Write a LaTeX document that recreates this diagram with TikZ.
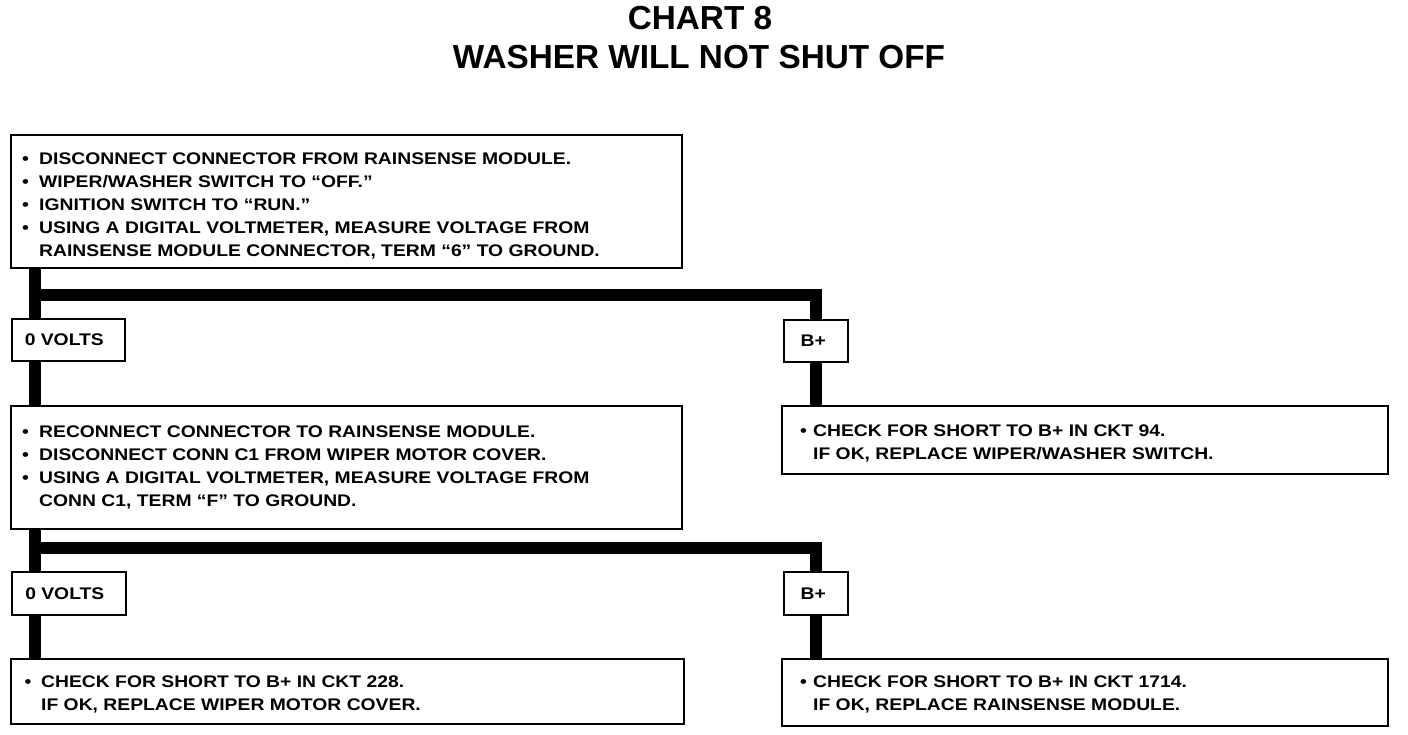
\documentclass[tikz,border=0pt]{standalone}
\usepackage{fontspec}
\setmainfont{Liberation Sans}
\newfontfamily\widefont{Liberation Sans}[FakeStretch=1.15]
\usetikzlibrary{calc}
\newcommand\bul[1]{\makebox[#1][l]{•}}
\newcommand\hang[1]{\hspace*{#1}}
\newcommand\bodyfnt{\widefont\bfseries\fontsize{16.8}{23}\selectfont}
\newcommand\titlefnt{\bfseries\fontsize{33.3}{40}\selectfont}
\tikzset{
  box/.style={draw, line width=1.6pt, anchor=north west, inner sep=0pt},
  txt/.style={anchor=north west, inner sep=0pt, align=left, font=\bodyfnt},
  lbl/.style={draw, line width=1.6pt, anchor=north west, inner sep=0pt, font=\bodyfnt},
  trunk/.style={line width=12pt, line join=miter, line cap=butt},
  ttl/.style={font=\titlefnt, inner sep=0pt}
}
\begin{document}
\begin{tikzpicture}[x=1pt,y=-1pt]
\useasboundingbox (0,0) rectangle (1408,734);
% title
\node[ttl] (t1) at (700,18) {CHART 8};
\node[ttl] (t2) at (699,57) {WASHER WILL NOT SHUT OFF};
% boxes
\node[box, minimum width=671pt, minimum height=133pt] (box1) at (10,134) {};
\node[txt] (box1t) at (22,152.5)
 {\bul{17pt}DISCONNECT CONNECTOR FROM RAINSENSE MODULE.\\
  \bul{17pt}WIPER/WASHER SWITCH TO “OFF.”\\
  \bul{17pt}IGNITION SWITCH TO “RUN.”\\
  \bul{17pt}USING A DIGITAL VOLTMETER, MEASURE VOLTAGE FROM\\
  \hang{17pt}RAINSENSE MODULE CONNECTOR, TERM “6” TO GROUND.};
\node[lbl, minimum width=113pt, minimum height=42pt] (v1) at (11,318) {\hspace*{-8pt}0 VOLTS};
\node[lbl, minimum width=64pt, minimum height=42pt] (b1) at (783,319) {\hspace*{-5pt}B+};
\node[box, minimum width=671pt, minimum height=123pt] (box2) at (10,405) {};
\node[txt] (box2t) at (22,425.5)
 {\bul{17pt}RECONNECT CONNECTOR TO RAINSENSE MODULE.\\
  \bul{17pt}DISCONNECT CONN C1 FROM WIPER MOTOR COVER.\\
  \bul{17pt}USING A DIGITAL VOLTMETER, MEASURE VOLTAGE FROM\\
  \hang{17pt}CONN C1, TERM “F” TO GROUND.};
\node[box, minimum width=606pt, minimum height=68pt] (box3) at (781,405) {};
\node[txt] (box3t) at (800,424.5)
 {\bul{13pt}CHECK FOR SHORT TO B+ IN CKT 94.\\
  \hang{13pt}IF OK, REPLACE WIPER/WASHER SWITCH.};
\node[lbl, minimum width=114pt, minimum height=43pt] (v2) at (11,571) {\hspace*{-8pt}0 VOLTS};
\node[lbl, minimum width=64pt, minimum height=43pt] (b2) at (783,571) {\hspace*{-5pt}B+};
\node[box, minimum width=673pt, minimum height=65pt] (box4) at (10,658) {};
\node[txt] (box4t) at (24.5,675.5)
 {\bul{16.5pt}CHECK FOR SHORT TO B+ IN CKT 228.\\
  \hang{16.5pt}IF OK, REPLACE WIPER MOTOR COVER.};
\node[box, minimum width=606pt, minimum height=67pt] (box5) at (781,658) {};
\node[txt] (box5t) at (800,675.5)
 {\bul{13pt}CHECK FOR SHORT TO B+ IN CKT 1714.\\
  \hang{13pt}IF OK, REPLACE RAINSENSE MODULE.};
% connectors
\coordinate (j1) at (35,295);
\coordinate (k1) at (b1.north |- j1);
\coordinate (j2) at (35,548);
\coordinate (k2) at (b2.north |- j2);
\draw[trunk] (box1.south -| j1) -- (v1.north -| j1);
\draw[trunk] (v1.south -| j1) -- (box2.north -| j1);
\draw[trunk] ([xshift=-6pt]j1) -- (k1) -- (b1.north);
\draw[trunk] (b1.south) -- (box3.north -| b1.south);
\draw[trunk] (box2.south -| j2) -- (v2.north -| j2);
\draw[trunk] (v2.south -| j2) -- (box4.north -| j2);
\draw[trunk] ([xshift=-6pt]j2) -- (k2) -- (b2.north);
\draw[trunk] (b2.south) -- (box5.north -| b2.south);
\end{tikzpicture}
\end{document}
